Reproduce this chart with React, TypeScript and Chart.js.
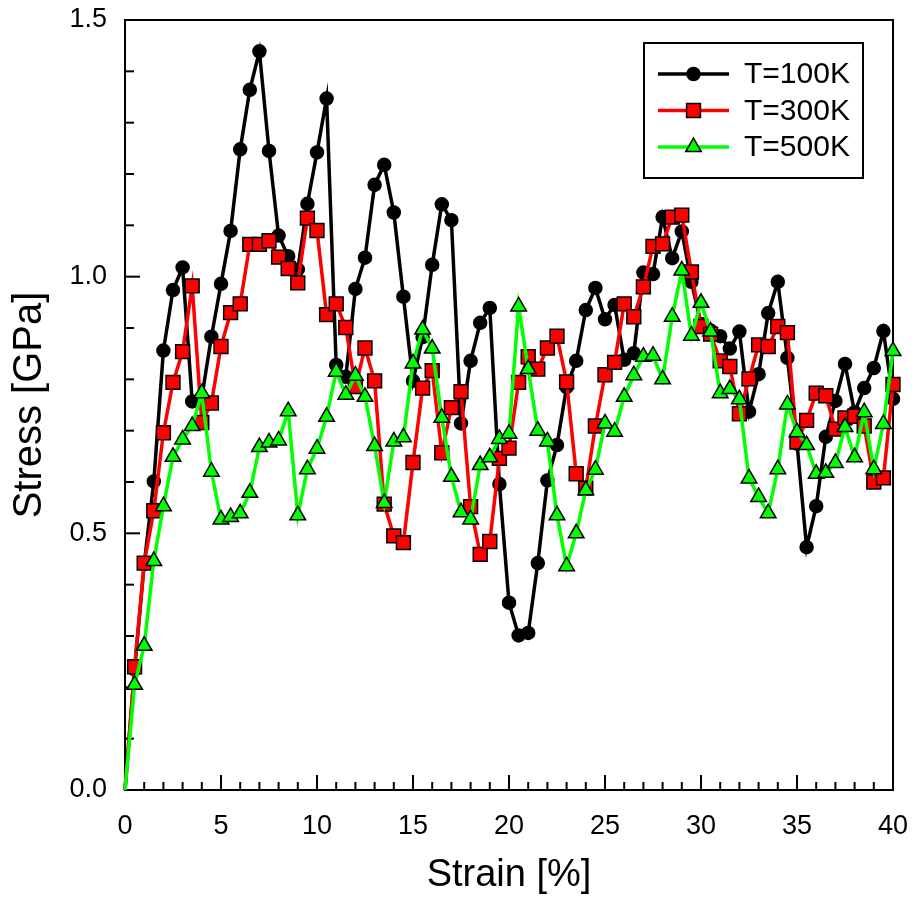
import React, { useEffect, useRef } from "react";
import { Chart, registerables } from "chart.js";

Chart.register(...registerables);

// ---------------- data ----------------
const STRAIN = [
  0, 0.5, 1, 1.5, 2, 2.5, 3, 3.5, 4, 4.5, 5, 5.5, 6, 6.5, 7, 7.5, 8, 8.5, 9, 9.5,
  10, 10.5, 11, 11.5, 12, 12.5, 13, 13.5, 14, 14.5, 15, 15.5, 16, 16.5, 17, 17.5, 18, 18.5, 19, 19.5,
  20, 20.5, 21, 21.5, 22, 22.5, 23, 23.5, 24, 24.5, 25, 25.5, 26, 26.5, 27, 27.5, 28, 28.5, 29, 29.5,
  30, 30.5, 31, 31.5, 32, 32.5, 33, 33.5, 34, 34.5, 35, 35.5, 36, 36.5, 37, 37.5, 38, 38.5, 39, 39.5,
  40,
];

const STRESS_100K = [
  0, 0.235, 0.44, 0.601, 0.856, 0.974, 1.018, 0.757, 0.765, 0.883, 0.986, 1.089, 1.248, 1.364, 1.439, 1.245, 1.08, 1.04, 1.014, 1.142,
  1.242, 1.347, 0.828, 0.805, 0.976, 1.037, 1.179, 1.218, 1.125, 0.961, 0.797, 0.882, 1.023, 1.141, 1.11, 0.714, 0.836, 0.91, 0.939, 0.596,
  0.365, 0.301, 0.306, 0.442, 0.603, 0.672, 0.785, 0.836, 0.935, 0.978, 0.917, 0.945, 0.838, 0.851, 1.008, 1.005, 1.116, 1.036, 1.088, 0.99,
  0.908, 0.895, 0.884, 0.86, 0.893, 0.737, 0.81, 0.929, 0.99, 0.842, 0.675, 0.473, 0.553, 0.688, 0.758, 0.83, 0.736, 0.783, 0.822, 0.894,
  0.762,
];

const STRESS_300K = [
  0, 0.24, 0.442, 0.544, 0.696, 0.794, 0.854, 0.982, 0.716, 0.754, 0.864, 0.93, 0.947, 1.063, 1.063, 1.07, 1.038, 1.016, 0.988, 1.114,
  1.09, 0.926, 0.947, 0.901, 0.786, 0.861, 0.797, 0.557, 0.495, 0.482, 0.638, 0.783, 0.817, 0.657, 0.745, 0.776, 0.552, 0.459, 0.484, 0.646,
  0.666, 0.794, 0.844, 0.82, 0.861, 0.884, 0.795, 0.616, 0.588, 0.709, 0.809, 0.833, 0.947, 0.922, 0.98, 1.059, 1.064, 1.116, 1.12, 1.009,
  0.903, 0.888, 0.836, 0.825, 0.733, 0.801, 0.867, 0.864, 0.903, 0.891, 0.678, 0.72, 0.773, 0.768, 0.703, 0.725, 0.728, 0.709, 0.6, 0.608,
  0.79,
];

const STRESS_500K = [
  0, 0.205, 0.281, 0.446, 0.553, 0.649, 0.683, 0.709, 0.773, 0.62, 0.527, 0.532, 0.539, 0.579, 0.668, 0.677, 0.681, 0.738, 0.535, 0.625,
  0.665, 0.727, 0.815, 0.77, 0.807, 0.766, 0.67, 0.559, 0.679, 0.687, 0.831, 0.897, 0.86, 0.725, 0.61, 0.541, 0.527, 0.633, 0.648, 0.684,
  0.694, 0.942, 0.82, 0.7, 0.679, 0.535, 0.436, 0.5, 0.584, 0.624, 0.714, 0.698, 0.766, 0.808, 0.844, 0.846, 0.8, 0.922, 1.012, 0.885,
  0.949, 0.893, 0.773, 0.781, 0.761, 0.607, 0.571, 0.539, 0.625, 0.751, 0.697, 0.672, 0.616, 0.618, 0.637, 0.707, 0.648, 0.736, 0.625, 0.713,
  0.855,
];

const SERIES_LABELS = ["T=100K", "T=300K", "T=500K"];
const X_TICKS = [0, 5, 10, 15, 20, 25, 30, 35, 40];
const Y_TICKS = [0, 0.5, 1.0, 1.5];
const X_MINOR_STEP = 1;
const Y_MINOR_STEP = 0.1;
const X_TITLE = "Strain [%]";
const Y_TITLE = "Stress [GPa]";

const FONT = "'Liberation Sans', Arial, Helvetica, sans-serif";

// ---------------- helpers ----------------
function drawMarker(ctx: CanvasRenderingContext2D, style: string, x: number, y: number, r: number, fill: string) {
  ctx.beginPath();
  if (style === "circle") {
    ctx.arc(x, y, r, 0, Math.PI * 2);
  } else if (style === "rect") {
    const s = Math.SQRT1_2 * r;
    ctx.rect(x - s, y - s, 2 * s, 2 * s);
  } else {
    let rad = 0;
    ctx.moveTo(x + Math.sin(rad) * r, y - Math.cos(rad) * r);
    rad += (2 * Math.PI) / 3;
    ctx.lineTo(x + Math.sin(rad) * r, y - Math.cos(rad) * r);
    rad += (2 * Math.PI) / 3;
    ctx.lineTo(x + Math.sin(rad) * r, y - Math.cos(rad) * r);
    ctx.closePath();
  }
  ctx.fillStyle = fill;
  ctx.fill();
  ctx.lineWidth = 1.5;
  ctx.strokeStyle = "#000";
  ctx.stroke();
}

const framePlugin = {
  id: "frameTicks",
  beforeDatasetsDraw(chart: any) {
    const { ctx, chartArea: a, scales } = chart;
    const xs = scales.x;
    const ys = scales.y;
    ctx.save();
    ctx.strokeStyle = "#000";
    ctx.lineWidth = 2;
    ctx.strokeRect(a.left, a.top, a.right - a.left, a.bottom - a.top);
    const xMin = X_TICKS[0];
    const xMax = X_TICKS[X_TICKS.length - 1];
    const nx = Math.round((xMax - xMin) / X_MINOR_STEP);
    for (let i = 0; i <= nx; i++) {
      const v = xMin + i * X_MINOR_STEP;
      const px = xs.getPixelForValue(v);
      const major = X_TICKS.some((t) => Math.abs(t - v) < 1e-9);
      const len = major ? 15 : 8;
      ctx.beginPath();
      ctx.moveTo(px, a.bottom);
      ctx.lineTo(px, a.bottom - len);
      ctx.stroke();
    }
    const yMin = Y_TICKS[0];
    const yMax = Y_TICKS[Y_TICKS.length - 1];
    const ny = Math.round((yMax - yMin) / Y_MINOR_STEP);
    for (let i = 0; i <= ny; i++) {
      const v = yMin + i * Y_MINOR_STEP;
      const py = ys.getPixelForValue(v);
      const major = Y_TICKS.some((t) => Math.abs(t - v) < 1e-9);
      const len = major ? 15 : 9;
      ctx.beginPath();
      ctx.moveTo(a.left, py);
      ctx.lineTo(a.left + len, py);
      ctx.stroke();
    }
    ctx.restore();
  },
};

const legendPlugin = {
  id: "lineLegend",
  afterDraw(chart: any) {
    const { ctx, chartArea: a } = chart;
    const boxRight = a.right - 30;
    const boxTop = a.top + 23;
    const boxW = 219;
    const boxH = 135;
    const boxLeft = boxRight - boxW;
    ctx.save();
    ctx.fillStyle = "#fff";
    ctx.fillRect(boxLeft, boxTop, boxW, boxH);
    ctx.strokeStyle = "#000";
    ctx.lineWidth = 2;
    ctx.strokeRect(boxLeft, boxTop, boxW, boxH);
    const datasets = chart.data.datasets;
    datasets.forEach((ds: any, i: number) => {
      const y = boxTop + 31 + i * 36.5;
      const x0 = boxLeft + 14;
      const x1 = boxLeft + 85;
      ctx.beginPath();
      ctx.moveTo(x0, y);
      ctx.lineTo(x1, y);
      ctx.strokeStyle = ds.borderColor;
      ctx.lineWidth = ds.borderWidth;
      ctx.stroke();
      drawMarker(ctx, ds.pointStyle, (x0 + x1) / 2, y, ds._legendRadius, ds.pointBackgroundColor);
      ctx.fillStyle = "#000";
      ctx.font = `30px ${FONT}`;
      ctx.textAlign = "left";
      ctx.textBaseline = "middle";
      ctx.fillText(ds.label, boxLeft + 100, y + 1);
    });
    ctx.restore();
  },
};

function makeDataset(label: string, values: number[], color: string, fill: string, style: string, radius: number, order: number) {
  return {
    label,
    data: STRAIN.map((x, i) => ({ x, y: values[i] })),
    borderColor: color,
    backgroundColor: fill,
    borderWidth: 3.5,
    pointStyle: style,
    pointRadius: (c: any) => (c.dataIndex === 0 ? 0 : radius),
    pointBackgroundColor: fill,
    pointBorderColor: "#000",
    pointBorderWidth: 1.5,
    tension: 0,
    order,
    clip: false,
    _legendRadius: radius,
  };
}

function zeroPadding(s: any) {
  s.paddingTop = 0;
  s.paddingBottom = 0;
  s.paddingLeft = 0;
  s.paddingRight = 0;
}

export default function App() {
  const ref = useRef<HTMLCanvasElement>(null);

  useEffect(() => {
    const canvas = ref.current;
    if (!canvas) return;
    const chart = new Chart(canvas, {
      type: "line",
      data: {
        datasets: [
          makeDataset(SERIES_LABELS[0], STRESS_100K, "#000000", "#000000", "circle", 6.5, 2),
          makeDataset(SERIES_LABELS[1], STRESS_300K, "#ff0000", "#ff0000", "rect", 9.8, 1),
          makeDataset(SERIES_LABELS[2], STRESS_500K, "#00ff00", "#00ff00", "triangle", 9, 0),
        ] as any,
      },
      options: {
        animation: false,
        responsive: false,
        devicePixelRatio: 1,
        layout: { padding: { top: 20, right: 23, left: 0, bottom: 0 } },
        plugins: {
          legend: { display: false },
          tooltip: { enabled: false },
        },
        scales: {
          x: {
            type: "linear",
            position: "bottom",
            min: X_TICKS[0],
            max: X_TICKS[X_TICKS.length - 1],
            afterFit: (s: any) => {
              s.height = 110;
              zeroPadding(s);
            },
            afterBuildTicks: (s: any) => {
              s.ticks = X_TICKS.map((v) => ({ value: v }));
            },
            ticks: {
              font: { family: FONT, size: 27 },
              color: "#000",
              padding: 20,
              maxRotation: 0,
              autoSkip: false,
              callback: (v: any) => String(v),
            },
            grid: { display: false, drawTicks: false },
            border: { display: false },
            title: {
              display: true,
              text: X_TITLE,
              color: "#000",
              font: { family: FONT, size: 38 },
              padding: { top: 0, bottom: 2 },
            },
          },
          y: {
            type: "linear",
            min: Y_TICKS[0],
            max: Y_TICKS[Y_TICKS.length - 1],
            afterFit: (s: any) => {
              s.width = 125;
              zeroPadding(s);
            },
            afterBuildTicks: (s: any) => {
              s.ticks = Y_TICKS.map((v) => ({ value: v }));
            },
            ticks: {
              font: { family: FONT, size: 27 },
              color: "#000",
              padding: 18,
              autoSkip: false,
              callback: (v: any) => Number(v).toFixed(1),
            },
            grid: { display: false, drawTicks: false },
            border: { display: false },
            title: {
              display: true,
              text: Y_TITLE,
              color: "#000",
              font: { family: FONT, size: 40 },
              padding: { top: 6, bottom: 0 },
            },
          },
        },
      } as any,
      plugins: [framePlugin, legendPlugin],
    });
    return () => chart.destroy();
  }, []);

  return (
    <div style={{ position: "absolute", left: 0, top: 0, width: 916, height: 900, background: "#fff" }}>
      <canvas ref={ref} width={916} height={900} style={{ display: "block" }} />
    </div>
  );
}
